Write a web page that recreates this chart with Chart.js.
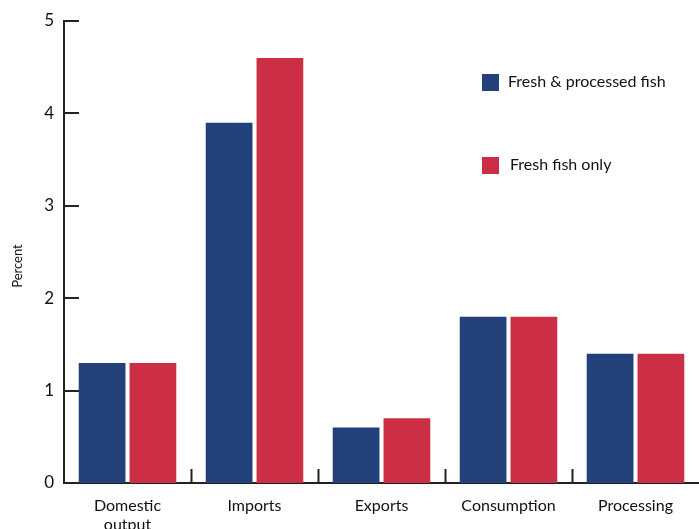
<!DOCTYPE html>
<html>
<head>
<meta charset="utf-8">
<script src="https://cdn.jsdelivr.net/npm/chart.js@4/dist/chart.umd.min.js"></script>
<style>
html,body{margin:0;padding:0;background:#fff;}
#wrap{width:699px;height:529px;position:relative;}
</style>
</head>
<body>
<div id="wrap"><canvas id="c" width="699" height="529"></canvas></div>
<script>
const categories = [["Domestic","output"], "Imports", "Exports", "Consumption", "Processing"];
const freshProcessed = [1.3, 3.9, 0.6, 1.8, 1.4];
const freshOnly = [1.3, 4.6, 0.7, 1.8, 1.4];
const seriesNames = ["Fresh & processed fish", "Fresh fish only"];
const yTicks = [0, 1, 2, 3, 4, 5];
const yTitle = "Percent";

const BLUE = '#22407A';
const RED = '#CC2E45';
const FONT = 'Lato, "Open Sans", sans-serif';

const innerTicks = {
  id: 'innerTicks',
  afterDraw(chart) {
    const ctx = chart.ctx;
    const x = chart.scales.x, y = chart.scales.y;
    ctx.save();
    ctx.strokeStyle = '#222';
    ctx.lineWidth = 2;
    yTicks.forEach(v => {
      const py = Math.round(y.getPixelForValue(v));
      ctx.beginPath();
      ctx.moveTo(x.left, py);
      ctx.lineTo(x.left + 15, py);
      ctx.stroke();
    });
    for (let i = 1; i < categories.length; i++) {
      const px = Math.round((x.getPixelForValue(i - 1) + x.getPixelForValue(i)) / 2) + 0.5;
      ctx.beginPath();
      ctx.moveTo(px, y.bottom);
      ctx.lineTo(px, y.bottom - 14);
      ctx.stroke();
    }
    // y title
    ctx.fillStyle = '#111';
    ctx.font = '13px ' + FONT;
    ctx.textAlign = 'center';
    ctx.textBaseline = 'middle';
    ctx.save();
    ctx.translate(18, 266);
    ctx.rotate(-Math.PI / 2);
    ctx.fillText(yTitle, 0, 0);
    ctx.restore();
    // legend
    const items = chart.data.datasets;
    const pos = [82, 165];
    const textX = [508, 510];
    ctx.font = '16px ' + FONT;
    ctx.textAlign = 'left';
    items.forEach((ds, i) => {
      ctx.fillStyle = ds.backgroundColor;
      ctx.fillRect(482, pos[i] - 8, 17, 17);
      ctx.fillStyle = '#111';
      ctx.fillText(ds.label, textX[i], pos[i]);
    });
    ctx.restore();
  }
};

new Chart(document.getElementById('c'), {
  type: 'bar',
  data: {
    labels: categories,
    datasets: [
      { label: seriesNames[0], data: freshProcessed, backgroundColor: BLUE },
      { label: seriesNames[1], data: freshOnly, backgroundColor: RED }
    ]
  },
  options: {
    responsive: false,
    animation: false,
    layout: { padding: { top: 21, right: 0, left: 0, bottom: 0 } },
    plugins: { legend: { display: false }, tooltip: { enabled: false } },
    datasets: { bar: { categoryPercentage: 0.8, barPercentage: 0.92 } },
    scales: {
      x: {
        grid: { display: false },
        border: { color: '#222', width: 2 },
        ticks: { color: '#111', font: { family: FONT, size: 16 }, padding: 5, maxRotation: 0 },
        afterFit(s) { s.height = 46; }
      },
      y: {
        min: 0, max: 5,
        grid: { display: false },
        border: { color: '#222', width: 2 },
        ticks: { stepSize: 1, color: '#111', font: { family: FONT, size: 17 }, padding: 2 },
        afterFit(s) { s.width = 64; }
      }
    }
  },
  plugins: [innerTicks]
});
</script>
</body>
</html>
